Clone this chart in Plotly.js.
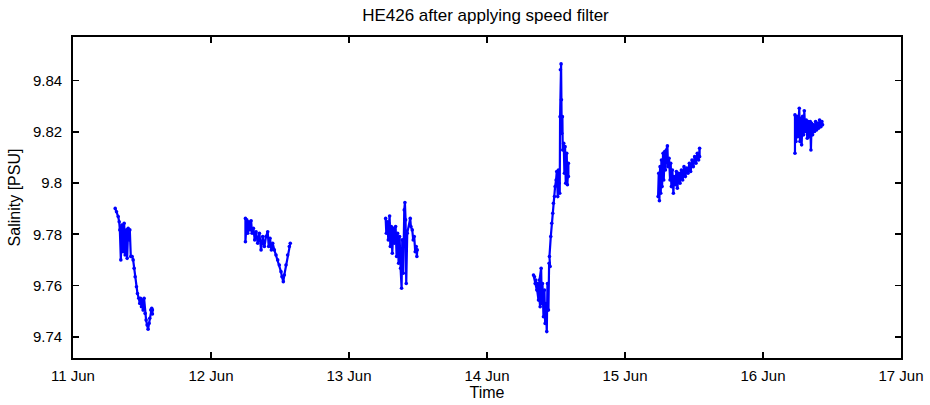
<!DOCTYPE html>
<html>
<head>
<meta charset="utf-8">
<script src="https://cdn.plot.ly/plotly-3.0.1.min.js"></script>
<style>html,body{margin:0;padding:0;background:#fff;}</style>
</head>
<body>
<div id="chart" style="width:930px;height:405px;"></div>
<script>
// Time in days since 11 Jun 00:00; salinity in PSU
const seg1Time = [0.3058,0.3154,0.3274,0.3347,0.3395,0.3467,0.3539,0.3635,0.3708,0.3780,0.3876,0.3924,0.3997,0.4069,0.4117,0.4189,0.4286,0.4358,0.4430,0.4502,0.4599,0.4671,0.4767,0.4839,0.4887,0.4960,0.5032,0.5080,0.5152,0.5225,0.5297,0.5369,0.5441,0.5513,0.5562,0.5634,0.5706,0.5754,0.5754];
const seg1Sal  = [9.7901,9.7888,9.7869,9.7849,9.7817,9.7700,9.7836,9.7732,9.7843,9.7719,9.7817,9.7706,9.7823,9.7778,9.7817,9.7713,9.7713,9.7700,9.7667,9.7634,9.7595,9.7569,9.7550,9.7530,9.7550,9.7517,9.7543,9.7504,9.7550,9.7491,9.7465,9.7446,9.7429,9.7452,9.7472,9.7504,9.7511,9.7504,9.7489];

const seg2Time = [1.2495,1.2495,1.2592,1.2664,1.2736,1.2833,1.2905,1.2977,1.3073,1.3169,1.3266,1.3386,1.3507,1.3627,1.3747,1.3868,1.3988,1.4109,1.4181,1.4277,1.4373,1.4470,1.4590,1.4710,1.4831,1.4951,1.5072,1.5144,1.5240,1.5312,1.5433,1.5553,1.5674,1.5746];
const seg2Sal  = [9.7862,9.7771,9.7856,9.7804,9.7849,9.7817,9.7853,9.7804,9.7823,9.7778,9.7810,9.7765,9.7804,9.7739,9.7791,9.7752,9.7791,9.7810,9.7752,9.7784,9.7739,9.7765,9.7739,9.7719,9.7700,9.7680,9.7654,9.7634,9.7615,9.7641,9.7680,9.7719,9.7752,9.7765];

const seg3Time = [2.2656,2.2704,2.2776,2.2848,2.2896,2.2944,2.2993,2.3065,2.3137,2.3209,2.3282,2.3378,2.3450,2.3522,2.3595,2.3667,2.3739,2.3811,2.3859,2.3932,2.4004,2.4052,2.4100,2.4148,2.4220,2.4437,2.4485,2.4582,2.4654,2.4726,2.4798,2.4871,2.4919,2.4943];
const seg3Sal  = [9.7862,9.7804,9.7849,9.7778,9.7843,9.7871,9.7752,9.7830,9.7726,9.7823,9.7765,9.7830,9.7713,9.7804,9.7687,9.7791,9.7667,9.7589,9.7778,9.7648,9.7895,9.7924,9.7856,9.7608,9.7804,9.7862,9.7830,9.7817,9.7778,9.7791,9.7732,9.7752,9.7713,9.7739];

const seg4Time = [3.3369,3.3490,3.3442,3.3610,3.3538,3.3731,3.3682,3.3851,3.3803,3.3923,3.3971,3.4020,3.4092,3.4164,3.4212,3.4260,3.4332,3.4381,3.4453,3.4501,3.4574,3.4525,3.4622,3.4694,3.4766,3.4814,3.4886,3.4935,3.5007,3.5055,3.5127,3.5175,3.5223,3.5271,3.5296,3.5320,3.5368,3.5392,3.5416,3.5464,3.5488,3.5560,3.5609,3.5657,3.5705,3.5777,3.5825,3.5897,3.5897];
const seg4Sal  = [9.7641,9.7608,9.7634,9.7582,9.7621,9.7543,9.7608,9.7517,9.7621,9.7667,9.7530,9.7608,9.7478,9.7582,9.7452,9.7530,9.7420,9.7608,9.7504,9.7687,9.7674,9.7713,9.7791,9.7843,9.7882,9.7921,9.7947,9.7986,9.8012,9.8045,9.7947,9.8051,9.7999,9.7960,9.8259,9.8442,9.8465,9.8325,9.8194,9.8259,9.8129,9.8155,9.8038,9.8142,9.7999,9.8116,9.7993,9.8077,9.8025];

const seg5Time = [4.2398,4.2446,4.2494,4.2542,4.2591,4.2639,4.2687,4.2759,4.2807,4.2880,4.2928,4.3000,4.3072,4.3120,4.3193,4.3265,4.3313,4.3361,4.3433,4.3506,4.3554,4.3650,4.3722,4.3794,4.3891,4.3987,4.4083,4.4180,4.4276,4.4372,4.4469,4.4565,4.4661,4.4758,4.4854,4.4950,4.5046,4.5143,4.5239,4.5335,4.5407,4.5407];
const seg5Sal  = [9.7947,9.8038,9.7931,9.8064,9.7960,9.8090,9.7986,9.8116,9.8012,9.8123,9.8051,9.8129,9.8145,9.8064,9.8097,9.8012,9.8077,9.7986,9.8051,9.7960,9.8025,9.7993,9.8045,9.7980,9.8038,9.7999,9.8051,9.8012,9.8064,9.8025,9.8058,9.8038,9.8077,9.8045,9.8090,9.8064,9.8103,9.8077,9.8116,9.8090,9.8136,9.8103];

const seg6Time = [5.2317,5.2317,5.2389,5.2461,5.2510,5.2582,5.2630,5.2678,5.2751,5.2799,5.2871,5.2943,5.2992,5.3064,5.3136,5.3208,5.3281,5.3353,5.3425,5.3473,5.3521,5.3594,5.3666,5.3738,5.3810,5.3882,5.3955,5.4027,5.4099,5.4195,5.4267,5.4316];
const seg6Sal  = [9.8116,9.8266,9.8162,9.8260,9.8181,9.8240,9.8292,9.8162,9.8253,9.8149,9.8260,9.8188,9.8282,9.8201,9.8246,9.8175,9.8240,9.8181,9.8240,9.8129,9.8233,9.8188,9.8227,9.8201,9.8240,9.8207,9.8233,9.8214,9.8246,9.8220,9.8240,9.8227];

const tickVals  = [0,1,2,3,4,5,6];
const tickText  = ['11 Jun','12 Jun','13 Jun','14 Jun','15 Jun','16 Jun','17 Jun'];
const yTickVals = [9.74,9.76,9.78,9.8,9.82,9.84];
const yTickText = ['9.74','9.76','9.78','9.8','9.82','9.84'];

const FONT = 'Liberation Sans, Arial, Helvetica, sans-serif';
const segments = [[seg1Time,seg1Sal],[seg2Time,seg2Sal],[seg3Time,seg3Sal],[seg4Time,seg4Sal],[seg5Time,seg5Sal],[seg6Time,seg6Sal]];
const traces = segments.map(s => ({
  x: s[0], y: s[1], type: 'scatter', mode: 'lines+markers',
  line: {color: '#0000ff', width: 2.2},
  marker: {color: '#0000ff', size: 3.6},
  hoverinfo: 'skip', showlegend: false
}));

const axisCommon = {
  showgrid: false, zeroline: false, showline: true, mirror: 'allticks',
  linecolor: '#000', linewidth: 1.8, ticks: 'inside', ticklen: 6, tickwidth: 1.8, tickcolor: '#000',
  tickfont: {family: FONT, size: 15, color: '#000'}
};

const layout = {
  width: 930, height: 405,
  margin: {l: 73, r: 29, t: 37, b: 47},
  paper_bgcolor: '#fff', plot_bgcolor: '#fff',
  title: {text: 'HE426 after applying speed filter', x: 0.522, xanchor: 'center', y: 0.963, yanchor: 'middle',
          font: {family: FONT, size: 17, color: '#000'}},
  xaxis: Object.assign({}, axisCommon, {range: [0, 6], tickmode: 'array', tickvals: tickVals, ticktext: tickText,
          ticklabelstandoff: 3,
          title: {text: 'Time', standoff: 0, font: {family: FONT, size: 16, color: '#000'}}}),
  yaxis: Object.assign({}, axisCommon, {range: [9.7317, 9.857], tickmode: 'array', tickvals: yTickVals, ticktext: yTickText,
          ticklabelstandoff: 6,
          title: {text: 'Salinity [PSU]', standoff: 8, font: {family: FONT, size: 16, color: '#000'}}})
};

Plotly.newPlot('chart', traces, layout, {displayModeBar: false, staticPlot: true});
</script>
</body>
</html>
